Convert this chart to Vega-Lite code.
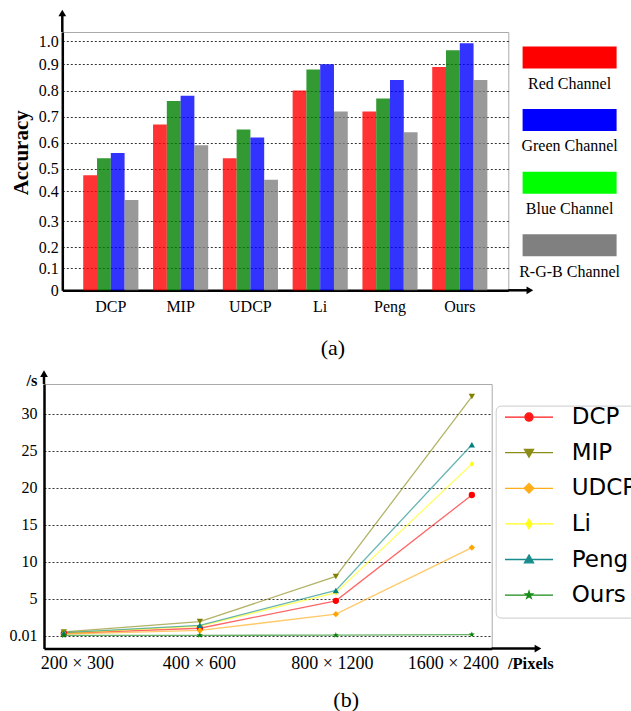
{
  "$schema": "https://vega.github.io/schema/vega-lite/v6.json",
  "background": "white",
  "padding": {"left": 8, "top": 9, "right": 0, "bottom": 0},
  "config": {
    "view": {"stroke": null},
    "axis": {
      "domainColor": "black", "domainWidth": 2.5, "ticks": false,
      "labelFont": "Liberation Serif", "labelColor": "black", "labelFontSize": 16,
      "titleFont": "Liberation Serif", "titleColor": "black",
      "gridColor": "black", "gridDash": [2, 2], "gridWidth": 0.8
    },
    "title": {"font": "Liberation Serif", "fontSize": 22, "fontWeight": "normal", "color": "black"}
  },
  "bounds": "full",
  "spacing": 9,
  "resolve": {"scale": {"color": "independent", "fill": "independent", "stroke": "independent", "shape": "independent"}},
  "vconcat": [
    {
      "bounds": "flush",
      "spacing": 14.3,
      "resolve": {"scale": {"color": "independent"}},
      "hconcat": [
        {"width": 3.1, "height": 1, "data": {"values": []}, "mark": "point"},
        {
          "width": 446, "height": 258.3,
          "view": {"stroke": "#aaaaaa"},
          "title": {"text": "(a)", "orient": "bottom", "anchor": "middle", "frame": "group", "dx": 47.6, "offset": 24},
          "layer": [
            {
              "data": {"values": [
                {"method": "DCP", "channel": "R", "accuracy": 0.47},
                {"method": "DCP", "channel": "G", "accuracy": 0.54},
                {"method": "DCP", "channel": "B", "accuracy": 0.56},
                {"method": "DCP", "channel": "RGB", "accuracy": 0.37},
                {"method": "MIP", "channel": "R", "accuracy": 0.67},
                {"method": "MIP", "channel": "G", "accuracy": 0.76},
                {"method": "MIP", "channel": "B", "accuracy": 0.78},
                {"method": "MIP", "channel": "RGB", "accuracy": 0.59},
                {"method": "UDCP", "channel": "R", "accuracy": 0.54},
                {"method": "UDCP", "channel": "G", "accuracy": 0.65},
                {"method": "UDCP", "channel": "B", "accuracy": 0.62},
                {"method": "UDCP", "channel": "RGB", "accuracy": 0.45},
                {"method": "Li", "channel": "R", "accuracy": 0.80},
                {"method": "Li", "channel": "G", "accuracy": 0.88},
                {"method": "Li", "channel": "B", "accuracy": 0.90},
                {"method": "Li", "channel": "RGB", "accuracy": 0.72},
                {"method": "Peng", "channel": "R", "accuracy": 0.72},
                {"method": "Peng", "channel": "G", "accuracy": 0.77},
                {"method": "Peng", "channel": "B", "accuracy": 0.84},
                {"method": "Peng", "channel": "RGB", "accuracy": 0.64},
                {"method": "Ours", "channel": "R", "accuracy": 0.89},
                {"method": "Ours", "channel": "G", "accuracy": 0.96},
                {"method": "Ours", "channel": "B", "accuracy": 0.99},
                {"method": "Ours", "channel": "RGB", "accuracy": 0.84}
              ]},
              "mark": {"type": "bar", "opacity": 0.8},
              "encoding": {
                "x": {"field": "method", "type": "nominal", "sort": ["DCP", "MIP", "UDCP", "Li", "Peng", "Ours"],
                  "scale": {"paddingInner": 0.21, "paddingOuter": 0.3},
                  "axis": {"title": null, "labelAngle": 0, "labelPadding": 8, "grid": false}},
                "xOffset": {"field": "channel", "type": "nominal", "sort": ["R", "G", "B", "RGB"], "scale": {"paddingInner": 0, "paddingOuter": 0}},
                "y": {"field": "accuracy", "type": "quantitative",
                  "scale": {"domain": [0, 0.1, 0.2, 0.3, 0.4, 0.5, 0.6, 0.7, 0.8, 0.9, 1.0, 1.0386],
                            "range": [258.3, 236, 215, 189.3, 159, 136.6, 110.6, 84.6, 58.6, 32.3, 9, 0],
                            "nice": false, "zero": false},
                  "axis": {"title": "Accuracy", "titleFontSize": 21, "titleFontWeight": "bold", "titleY": 120.3, "titlePadding": 7,
                           "values": [0, 0.1, 0.2, 0.3, 0.4, 0.5, 0.6, 0.7, 0.8, 0.9, 1.0],
                           "labelExpr": "datum.value == 0 ? '0' : format(datum.value, '.1f')",
                           "labelPadding": 4, "grid": true}},
                "color": {"field": "channel", "type": "nominal",
                  "scale": {"domain": ["R", "G", "B", "RGB"], "range": ["#ff0000", "#008000", "#0000ff", "#808080"]},
                  "legend": null}
              }
            },
            {
              "data": {"values": [{}]},
              "layer": [
                {"mark": {"type": "rule", "strokeWidth": 2.5, "color": "black"},
                 "encoding": {
                   "x": {"datum": 1, "type": "quantitative", "scale": {"domain": [0, 1], "nice": false, "zero": false}, "axis": null},
                   "x2": {"datum": 1.0484},
                   "y": {"datum": 0, "type": "quantitative", "scale": {"domain": [0, 1], "nice": false, "zero": false}, "axis": null}}},
                {"mark": {"type": "point", "shape": "triangle-right", "filled": true, "color": "black", "size": 60, "opacity": 1},
                 "encoding": {
                   "x": {"datum": 1.0484, "type": "quantitative", "scale": {"domain": [0, 1], "nice": false, "zero": false}, "axis": null},
                   "y": {"datum": 0, "type": "quantitative", "scale": {"domain": [0, 1], "nice": false, "zero": false}, "axis": null}}},
                {"mark": {"type": "rule", "strokeWidth": 2.5, "color": "black"},
                 "encoding": {
                   "x": {"datum": 0, "type": "quantitative", "scale": {"domain": [0, 1], "nice": false, "zero": false}, "axis": null},
                   "y": {"datum": 1, "type": "quantitative", "scale": {"domain": [0, 1], "nice": false, "zero": false}, "axis": null},
                   "y2": {"datum": 1.0736}}},
                {"mark": {"type": "point", "shape": "triangle-up", "filled": true, "color": "black", "size": 60, "opacity": 1},
                 "encoding": {
                   "x": {"datum": 0, "type": "quantitative", "scale": {"domain": [0, 1], "nice": false, "zero": false}, "axis": null},
                   "y": {"datum": 1.0736, "type": "quantitative", "scale": {"domain": [0, 1], "nice": false, "zero": false}, "axis": null}}}
              ]
            }
          ],
          "resolve": {"scale": {"x": "independent", "y": "independent"}}
        },
        {
          "width": 94, "height": 250.4,
          "data": {"values": [
            {"label": "Red Channel"},
            {"label": "Green Channel"},
            {"label": "Blue Channel"},
            {"label": "R-G-B Channel"}
          ]},
          "encoding": {
            "y": {"field": "label", "type": "nominal", "sort": null, "scale": {"paddingInner": 0, "paddingOuter": 0}, "axis": null}
          },
          "layer": [
            {"mark": {"type": "bar", "size": 22, "yOffset": -5.8},
             "encoding": {
               "x": {"datum": 0, "type": "quantitative", "scale": {"domain": [0, 1], "nice": false, "zero": false}, "axis": null},
               "x2": {"datum": 1},
               "color": {"field": "label", "type": "nominal",
                 "scale": {"domain": ["Red Channel", "Green Channel", "Blue Channel", "R-G-B Channel"], "range": ["#ff0000", "#0000ff", "#00ff00", "#808080"]},
                 "legend": null}}},
            {"mark": {"type": "text", "yOffset": 20.5, "font": "Liberation Serif", "fontSize": 16, "color": "black", "align": "center", "baseline": "middle"},
             "encoding": {
               "x": {"datum": 0.5, "type": "quantitative", "scale": {"domain": [0, 1], "nice": false, "zero": false}, "axis": null},
               "text": {"field": "label"}}}
          ]
        }
      ]
    },
    {
      "width": 447.7, "height": 264.6,
      "view": {"stroke": "#aaaaaa"},
      "title": {"text": "(b)", "orient": "bottom", "anchor": "middle", "frame": "group", "dx": 78.3, "offset": 17},
      "layer": [
        {
          "data": {"values": [
            {"method": "DCP", "size": "200 × 300", "time": 0.3},
            {"method": "DCP", "size": "400 × 600", "time": 1.0},
            {"method": "DCP", "size": "800 × 1200", "time": 4.7},
            {"method": "DCP", "size": "1600 × 2400", "time": 19.0},
            {"method": "MIP", "size": "200 × 300", "time": 0.5},
            {"method": "MIP", "size": "400 × 600", "time": 1.9},
            {"method": "MIP", "size": "800 × 1200", "time": 8.0},
            {"method": "MIP", "size": "1600 × 2400", "time": 32.3},
            {"method": "UDCP", "size": "200 × 300", "time": 0.2},
            {"method": "UDCP", "size": "400 × 600", "time": 0.7},
            {"method": "UDCP", "size": "800 × 1200", "time": 2.9},
            {"method": "UDCP", "size": "1600 × 2400", "time": 11.9},
            {"method": "Li", "size": "200 × 300", "time": 0.35},
            {"method": "Li", "size": "400 × 600", "time": 1.3},
            {"method": "Li", "size": "800 × 1200", "time": 5.8},
            {"method": "Li", "size": "1600 × 2400", "time": 23.2},
            {"method": "Peng", "size": "200 × 300", "time": 0.4},
            {"method": "Peng", "size": "400 × 600", "time": 1.4},
            {"method": "Peng", "size": "800 × 1200", "time": 6.1},
            {"method": "Peng", "size": "1600 × 2400", "time": 25.8},
            {"method": "Ours", "size": "200 × 300", "time": 0.03},
            {"method": "Ours", "size": "400 × 600", "time": 0.05},
            {"method": "Ours", "size": "800 × 1200", "time": 0.06},
            {"method": "Ours", "size": "1600 × 2400", "time": 0.15}
          ]},
          "encoding": {
            "x": {"field": "size", "type": "ordinal", "sort": ["200 × 300", "400 × 600", "800 × 1200", "1600 × 2400"],
              "scale": {"type": "point", "padding": 0.146},
              "axis": {"title": "/Pixels", "titleFontWeight": "bold", "titleFontSize": 16.5, "titleX": 463.4, "titleY": 14.4,
                       "titleAlign": "left", "titleBaseline": "middle", "titleAngle": 0,
                       "labelAngle": 0, "labelPadding": 6, "labelFontSize": 18, "grid": false,
                       "labelOffset": {"condition": [
                         {"test": "datum.value === '200 × 300'", "value": 13},
                         {"test": "datum.value === '800 × 1200'", "value": -4},
                         {"test": "datum.value === '1600 × 2400'", "value": -19}
                       ], "value": -1}}},
            "y": {"field": "time", "type": "quantitative",
              "scale": {"domain": [-1.75, 34], "nice": false, "zero": false},
              "axis": {"title": "/s", "titleFontWeight": "bold", "titleFontSize": 16.5, "titleAngle": 0, "titleX": -12.5, "titleY": -4,
                       "titleAlign": "center", "titleBaseline": "middle",
                       "values": [0.01, 5, 10, 15, 20, 25, 30], "format": ".2~f", "labelPadding": 7, "grid": true}}
          },
          "layer": [
            {"mark": {"type": "line", "strokeWidth": 1.3, "opacity": 0.6},
             "encoding": {
               "color": {"field": "method", "type": "nominal",
                 "scale": {"domain": ["DCP", "MIP", "UDCP", "Li", "Peng", "Ours"],
                           "range": ["#ff0000", "#808000", "#ffa500", "#ffff00", "#008080", "#008000"]},
                 "legend": null}}},
            {"mark": {"type": "point", "filled": true, "opacity": 1, "size": 40},
             "encoding": {
               "color": {"field": "method", "type": "nominal",
                 "scale": {"domain": ["DCP", "MIP", "UDCP", "Li", "Peng", "Ours"],
                           "range": ["#ff0000", "#808000", "#ffa500", "#ffff00", "#008080", "#008000"]},
                 "legend": null},
               "shape": {"field": "method", "type": "nominal",
                 "scale": {"domain": ["DCP", "MIP", "UDCP", "Li", "Peng", "Ours"],
                           "range": ["circle", "triangle-down", "diamond", "M0,-1L0.6,0L0,1L-0.6,0Z", "triangle-up",
                                     "M0,-1L0.235,-0.324L0.951,-0.309L0.38,0.124L0.588,0.809L0,0.4L-0.588,0.809L-0.38,0.124L-0.951,-0.309L-0.235,-0.324Z"]},
                 "legend": null}}},
            {"mark": {"type": "point", "filled": true, "opacity": 0, "strokeWidth": 1.3},
             "encoding": {
               "fill": {"field": "method", "type": "nominal",
                 "scale": {"domain": ["DCP", "MIP", "UDCP", "Li", "Peng", "Ours"],
                           "range": ["#ff0000", "#808000", "#ffa500", "#ffff00", "#008080", "#008000"]}},
               "stroke": {"field": "method", "type": "nominal",
                 "scale": {"domain": ["DCP", "MIP", "UDCP", "Li", "Peng", "Ours"],
                           "range": ["#ff0000", "#808000", "#ffa500", "#ffff00", "#008080", "#008000"]}},
               "shape": {"field": "method", "type": "nominal",
                 "scale": {"domain": ["DCP", "MIP", "UDCP", "Li", "Peng", "Ours"],
                           "range": [
                             "M-5,0H5M0.85,0A0.85,0.85,0,1,1,-0.85,0A0.85,0.85,0,1,1,0.85,0Z",
                             "M-5,0H5M-0.95,-0.7L0.95,-0.7L0,0.95Z",
                             "M-5,0H5M0,-1L1,0L0,1L-1,0Z",
                             "M-5,0H5M0,-1L0.6,0L0,1L-0.6,0Z",
                             "M-5,0H5M0,-0.95L0.95,0.7L-0.95,0.7Z",
                             "M-5,0H5M0,-0.8L0.188,-0.259L0.761,-0.247L0.304,0.099L0.47,0.647L0,0.32L-0.47,0.647L-0.304,0.099L-0.761,-0.247L-0.188,-0.259Z"]},
                 "legend": {"orient": "none", "legendX": 451.7, "legendY": 21.6, "title": " ", "titleOrient": "bottom", "titleFontSize": 8, "titlePadding": 2,
                            "padding": 0,
                            "strokeColor": "#cccccc", "cornerRadius": 5, "fillColor": "white",
                            "symbolSize": 92.16, "symbolOffset": 21.8, "symbolStrokeWidth": 1.3, "symbolOpacity": 0.9,
                            "symbolFillColor": "black", "symbolStrokeColor": "black",
                            "labelFont": "DejaVu Sans", "labelFontSize": 23, "labelColor": "black", "labelOffset": 31.2,
                            "rowPadding": 11.6, "labelLimit": 400,
                            "encode": {"symbols": {"update": {
                              "fill": {"signal": "datum.value === 'DCP' ? '#ff0000' : datum.value === 'MIP' ? '#808000' : datum.value === 'UDCP' ? '#ffa500' : datum.value === 'Li' ? '#ffff00' : datum.value === 'Peng' ? '#008080' : '#008000'"},
                              "fillOpacity": {"value": 1}}}}}}}}
          ],
          "resolve": {"scale": {"shape": "independent", "fill": "independent", "stroke": "independent"}}
        },
        {
          "data": {"values": [{}]},
          "layer": [
            {"mark": {"type": "rule", "strokeWidth": 2.5, "color": "black"},
             "encoding": {
               "x": {"datum": 1, "type": "quantitative", "scale": {"domain": [0, 1], "nice": false, "zero": false}, "axis": null},
               "x2": {"datum": 1.1034},
               "y": {"datum": 0, "type": "quantitative", "scale": {"domain": [0, 1], "nice": false, "zero": false}, "axis": null}}},
            {"mark": {"type": "point", "shape": "triangle-right", "filled": true, "color": "black", "size": 60, "opacity": 1},
             "encoding": {
               "x": {"datum": 1.1034, "type": "quantitative", "scale": {"domain": [0, 1], "nice": false, "zero": false}, "axis": null},
               "y": {"datum": 0, "type": "quantitative", "scale": {"domain": [0, 1], "nice": false, "zero": false}, "axis": null}}},
            {"mark": {"type": "rule", "strokeWidth": 2.5, "color": "black"},
             "encoding": {
               "x": {"datum": 0, "type": "quantitative", "scale": {"domain": [0, 1], "nice": false, "zero": false}, "axis": null},
               "y": {"datum": 1, "type": "quantitative", "scale": {"domain": [0, 1], "nice": false, "zero": false}, "axis": null},
               "y2": {"datum": 1.0389}}},
            {"mark": {"type": "point", "shape": "triangle-up", "filled": true, "color": "black", "size": 60, "opacity": 1},
             "encoding": {
               "x": {"datum": 0, "type": "quantitative", "scale": {"domain": [0, 1], "nice": false, "zero": false}, "axis": null},
               "y": {"datum": 1.0389, "type": "quantitative", "scale": {"domain": [0, 1], "nice": false, "zero": false}, "axis": null}}}
          ]
        }
      ],
      "resolve": {"scale": {"x": "independent", "y": "independent"}}
    }
  ]
}
